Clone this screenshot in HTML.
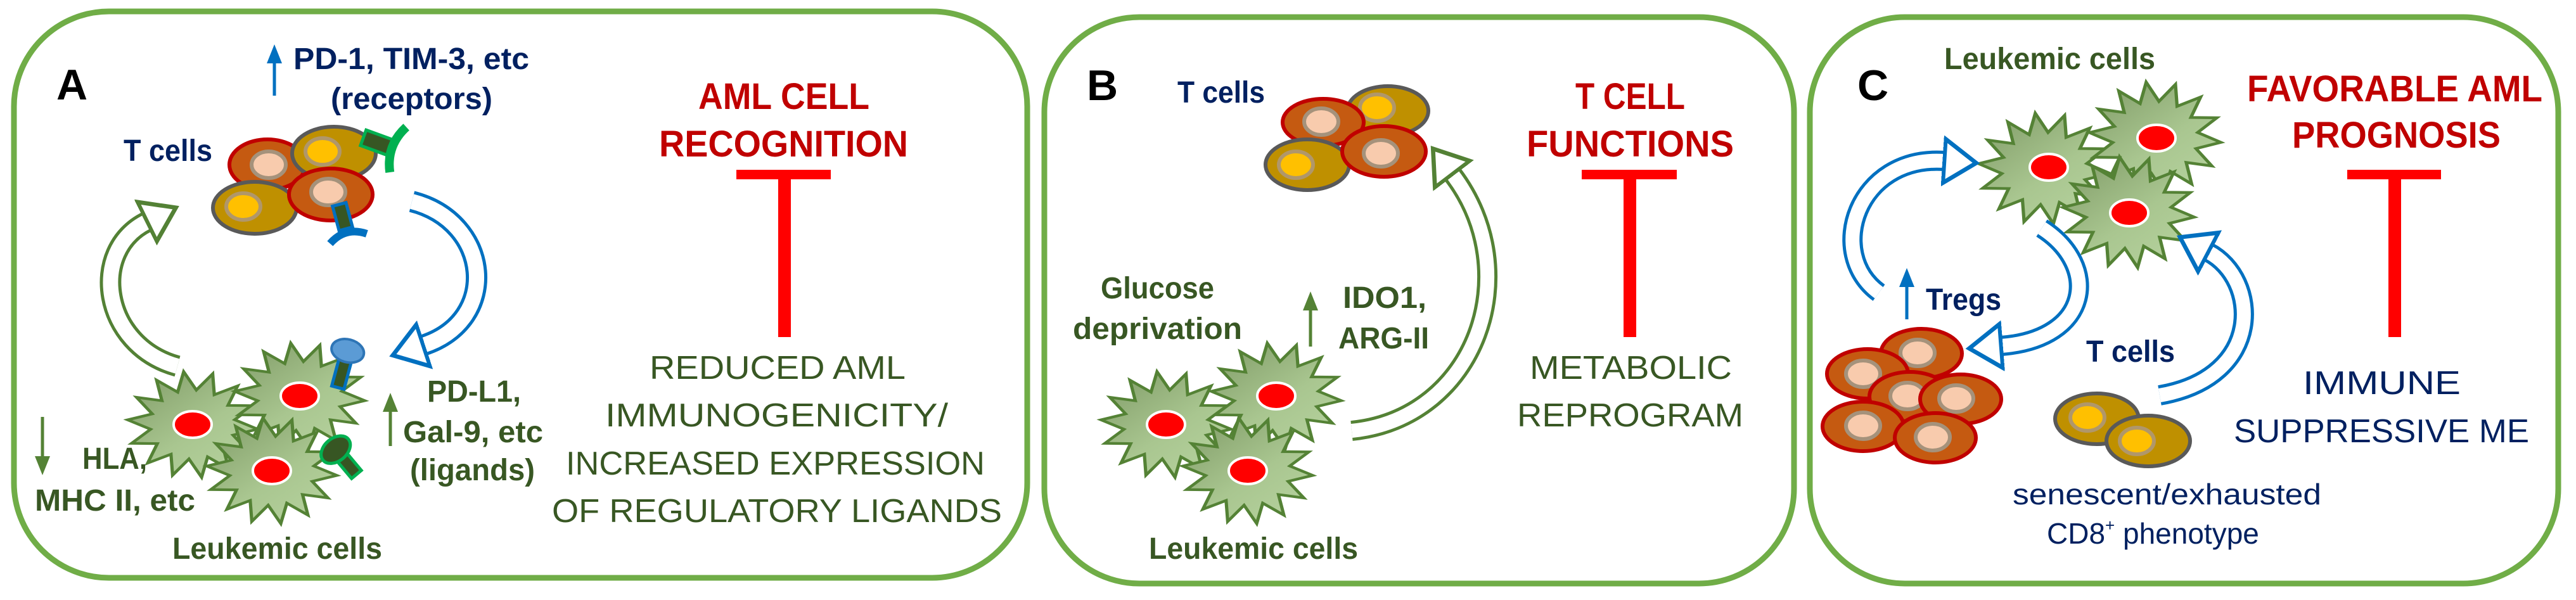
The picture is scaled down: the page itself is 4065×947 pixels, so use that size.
<!DOCTYPE html>
<html><head><meta charset="utf-8"><style>
html,body{margin:0;padding:0;background:#fff;}
svg{display:block;}
text{font-family:"Liberation Sans Narrow","Liberation Sans",sans-serif;}
.b{font-weight:bold;}
.nv{fill:#002060;}
.dg{fill:#385723;}
.rd{fill:#c00000;}
</style></head><body>
<svg width="4065" height="947" viewBox="0 0 4065 947" xmlns="http://www.w3.org/2000/svg">
<defs>
<linearGradient id="sg" x1="0" y1="0" x2="1" y2="1">
<stop offset="0" stop-color="#7f9a66"/><stop offset="0.55" stop-color="#a9c690"/><stop offset="1" stop-color="#b8d4a0"/>
</linearGradient>
<polygon id="star" points="1,0 .634,.145 .901,.434 .508,.405 .623,.782 .282,.586 .223,.975 0,.65 -.223,.975 -.282,.586 -.623,.782 -.508,.405 -.901,.434 -.634,.145 -1,0 -.634,-.145 -.901,-.434 -.508,-.405 -.623,-.782 -.282,-.586 -.223,-.975 0,-.65 .223,-.975 .282,-.586 .623,-.782 .508,-.405 .901,-.434 .634,-.145"/>
<marker id="hg" markerUnits="userSpaceOnUse" markerWidth="80" markerHeight="80" refX="2" refY="30" orient="auto" viewBox="0 0 60 60"><polygon points="2,4 40,30 2,56" fill="#fff" stroke="#538135" stroke-width="5"/></marker>
<marker id="hb" markerUnits="userSpaceOnUse" markerWidth="80" markerHeight="80" refX="2" refY="30" orient="auto" viewBox="0 0 60 60"><polygon points="2,4 40,30 2,56" fill="#fff" stroke="#0070c0" stroke-width="5"/></marker>
<marker id="ag" markerUnits="userSpaceOnUse" markerWidth="30" markerHeight="30" refX="5" refY="12" orient="auto" viewBox="0 0 30 24"><polygon points="0,0 30,12 0,24" fill="#548235"/></marker>
<marker id="ab" markerUnits="userSpaceOnUse" markerWidth="30" markerHeight="30" refX="5" refY="12" orient="auto" viewBox="0 0 30 24"><polygon points="0,0 30,12 0,24" fill="#0070c0"/></marker>
</defs>

<rect x="22" y="18" width="1599" height="894" rx="150" ry="150" fill="#fff" stroke="#70ad47" stroke-width="9"/>
<rect x="1648" y="27" width="1183" height="894" rx="150" ry="150" fill="#fff" stroke="#70ad47" stroke-width="9"/>
<rect x="2856" y="27" width="1181" height="894" rx="150" ry="150" fill="#fff" stroke="#70ad47" stroke-width="9"/>

<!-- ============ PANEL A ============ -->
<text x="89" y="157" class="b" font-size="68" fill="#000">A</text>
<line x1="433" y1="151" x2="433" y2="95" stroke="#0070c0" stroke-width="5" marker-end="url(#ab)"/>
<text x="463" y="109" class="b nv" font-size="48" textLength="372" lengthAdjust="spacingAndGlyphs">PD-1, TIM-3, etc</text>
<text x="522" y="172" class="b nv" font-size="48" textLength="255" lengthAdjust="spacingAndGlyphs">(receptors)</text>
<text x="195" y="254" class="b nv" font-size="48" textLength="140" lengthAdjust="spacingAndGlyphs">T cells</text>

<g stroke-width="6">
<ellipse cx="422" cy="260" rx="60" ry="40" fill="#c55a11" stroke="#c00000"/>
<ellipse cx="424" cy="260" rx="27" ry="21" fill="#f8cbad" stroke="#a5927b"/>
<ellipse cx="527" cy="242" rx="66" ry="42" fill="#bf9000" stroke="#595959"/>
<ellipse cx="509" cy="239" rx="27" ry="21" fill="#ffc000" stroke="#b0976a"/>
<ellipse cx="402" cy="328" rx="66" ry="41" fill="#bf9000" stroke="#595959"/>
<ellipse cx="384" cy="326" rx="27" ry="21" fill="#ffc000" stroke="#b0976a"/>
<ellipse cx="522" cy="307" rx="66" ry="41" fill="#c55a11" stroke="#c00000"/>
<ellipse cx="518" cy="303" rx="27" ry="21" fill="#f8cbad" stroke="#a5927b"/>
</g>
<g transform="translate(600,226) rotate(20)">
<rect x="-28" y="-12" width="52" height="26" fill="#375623" stroke="#00b050" stroke-width="5"/>
<path d="M30,-38 Q10,0 30,38" fill="none" stroke="#00b050" stroke-width="14"/>
</g>
<g transform="translate(540,340) rotate(-15)">
<rect x="-11" y="-18" width="22" height="40" fill="#375623" stroke="#0070c0" stroke-width="5"/>
<path d="M-30,38 Q0,18 30,38" fill="none" stroke="#0070c0" stroke-width="12"/>
</g>

<path d="M280,578 C160,545 140,395 232,350" fill="none" stroke="#538135" stroke-width="34"/>
<path d="M280,578 C160,545 140,395 232,350" fill="none" stroke="#fff" stroke-width="24"/>
<path d="M280,578 C160,545 140,395 232,350" fill="none" stroke="none" marker-end="url(#hg)"/>
<path d="M650,318 C775,350 790,505 668,545" fill="none" stroke="#0070c0" stroke-width="34"/>
<path d="M650,318 C775,350 790,505 668,545" fill="none" stroke="#fff" stroke-width="24"/>
<path d="M650,318 C775,350 790,505 668,545" fill="none" stroke="none" marker-end="url(#hb)"/>

<g stroke="#548235" stroke-width="0.05" fill="url(#sg)">
<use href="#star" transform="translate(304,670) scale(103,84) rotate(5)"/>
<use href="#star" transform="translate(473,625) scale(103,84) rotate(5)"/>
<use href="#star" transform="translate(429,743) scale(103,84) rotate(5)"/>
</g>
<g fill="#ff0000" stroke="#fff" stroke-width="4">
<ellipse cx="304" cy="670" rx="30" ry="21"/><ellipse cx="473" cy="625" rx="30" ry="21"/><ellipse cx="429" cy="743" rx="30" ry="21"/>
</g>
<g transform="translate(543,575) rotate(15)">
<rect x="-10" y="-10" width="20" height="48" fill="#375623" stroke="#0070c0" stroke-width="5"/>
<ellipse cx="0" cy="-22" rx="26" ry="18" fill="#5b9bd5" stroke="#2e75b6" stroke-width="4"/>
</g>
<g transform="translate(540,722) rotate(-40)">
<rect x="-10" y="-5" width="20" height="40" fill="#375623" stroke="#00b050" stroke-width="5"/>
<ellipse cx="0" cy="-16" rx="26" ry="18" fill="#375623" stroke="#00b050" stroke-width="5"/>
</g>

<line x1="67" y1="658" x2="67" y2="725" stroke="#548235" stroke-width="5" marker-end="url(#ag)"/>
<text x="130" y="740" class="b dg" font-size="48" textLength="102" lengthAdjust="spacingAndGlyphs">HLA,</text>
<text x="55" y="806" class="b dg" font-size="48" textLength="253" lengthAdjust="spacingAndGlyphs">MHC II, etc</text>
<line x1="616" y1="704" x2="616" y2="645" stroke="#548235" stroke-width="5" marker-end="url(#ag)"/>
<text x="674" y="634" class="b dg" font-size="48" textLength="148" lengthAdjust="spacingAndGlyphs">PD-L1,</text>
<text x="636" y="698" class="b dg" font-size="48" textLength="221" lengthAdjust="spacingAndGlyphs">Gal-9, etc</text>
<text x="647" y="758" class="b dg" font-size="48" textLength="197" lengthAdjust="spacingAndGlyphs">(ligands)</text>
<text x="272" y="882" class="b dg" font-size="48" textLength="331" lengthAdjust="spacingAndGlyphs">Leukemic cells</text>

<text x="1102" y="172" class="b rd" font-size="58" textLength="270" lengthAdjust="spacingAndGlyphs">AML CELL</text>
<text x="1040" y="247" class="b rd" font-size="58" textLength="393" lengthAdjust="spacingAndGlyphs">RECOGNITION</text>
<rect x="1162" y="268" width="149" height="15" fill="#ff0000"/>
<rect x="1228" y="268" width="20" height="264" fill="#ff0000"/>
<g class="dg" font-size="52">
<text x="1025" y="598" textLength="404" lengthAdjust="spacingAndGlyphs">REDUCED AML</text>
<text x="955" y="673" textLength="541" lengthAdjust="spacingAndGlyphs">IMMUNOGENICITY/</text>
<text x="893" y="749" textLength="661" lengthAdjust="spacingAndGlyphs">INCREASED EXPRESSION</text>
<text x="871" y="824" textLength="710" lengthAdjust="spacingAndGlyphs">OF REGULATORY LIGANDS</text>
</g>

<!-- ============ PANEL B ============ -->
<text x="1715" y="158" class="b" font-size="68" fill="#000">B</text>
<text x="1858" y="162" class="b nv" font-size="48" textLength="138" lengthAdjust="spacingAndGlyphs">T cells</text>
<g stroke-width="6">
<ellipse cx="2190" cy="175" rx="64" ry="39" fill="#bf9000" stroke="#595959"/>
<ellipse cx="2173" cy="170" rx="27" ry="21" fill="#ffc000" stroke="#b0976a"/>
<ellipse cx="2088" cy="193" rx="64" ry="37" fill="#c55a11" stroke="#c00000"/>
<ellipse cx="2085" cy="192" rx="27" ry="21" fill="#f8cbad" stroke="#a5927b"/>
<ellipse cx="2063" cy="260" rx="66" ry="40" fill="#bf9000" stroke="#595959"/>
<ellipse cx="2045" cy="260" rx="27" ry="21" fill="#ffc000" stroke="#b0976a"/>
<ellipse cx="2184" cy="239" rx="66" ry="40" fill="#c55a11" stroke="#c00000"/>
<ellipse cx="2179" cy="242" rx="27" ry="21" fill="#f8cbad" stroke="#a5927b"/>
</g>
<path d="M2133,680 C2330,660 2410,430 2292,275" fill="none" stroke="#548235" stroke-width="32"/>
<path d="M2133,680 C2330,660 2410,430 2292,275" fill="none" stroke="#fff" stroke-width="22"/>
<path d="M2133,680 C2330,660 2410,430 2292,275" fill="none" stroke="none" marker-end="url(#hg)"/>
<g stroke="#548235" stroke-width="0.05" fill="url(#sg)">
<use href="#star" transform="translate(1840,670) scale(103,84) rotate(5)"/>
<use href="#star" transform="translate(2014,625) scale(103,84) rotate(5)"/>
<use href="#star" transform="translate(1969,743) scale(103,84) rotate(5)"/>
</g>
<g fill="#ff0000" stroke="#fff" stroke-width="4">
<ellipse cx="1840" cy="670" rx="30" ry="21"/><ellipse cx="2014" cy="625" rx="30" ry="21"/><ellipse cx="1969" cy="743" rx="30" ry="21"/>
</g>
<text x="1737" y="471" class="b dg" font-size="48" textLength="179" lengthAdjust="spacingAndGlyphs">Glucose</text>
<text x="1693" y="535" class="b dg" font-size="48" textLength="267" lengthAdjust="spacingAndGlyphs">deprivation</text>
<line x1="2068" y1="547" x2="2068" y2="485" stroke="#548235" stroke-width="5" marker-end="url(#ag)"/>
<text x="2119" y="486" class="b dg" font-size="48" textLength="132" lengthAdjust="spacingAndGlyphs">IDO1,</text>
<text x="2112" y="550" class="b dg" font-size="48" textLength="143" lengthAdjust="spacingAndGlyphs">ARG-II</text>
<text x="1813" y="882" class="b dg" font-size="48" textLength="330" lengthAdjust="spacingAndGlyphs">Leukemic cells</text>
<text x="2486" y="172" class="b rd" font-size="58" textLength="173" lengthAdjust="spacingAndGlyphs">T CELL</text>
<text x="2409" y="247" class="b rd" font-size="58" textLength="327" lengthAdjust="spacingAndGlyphs">FUNCTIONS</text>
<rect x="2496" y="268" width="150" height="15" fill="#ff0000"/>
<rect x="2562" y="268" width="20" height="264" fill="#ff0000"/>
<text x="2414" y="598" class="dg" font-size="52" textLength="319" lengthAdjust="spacingAndGlyphs">METABOLIC</text>
<text x="2394" y="673" class="dg" font-size="52" textLength="357" lengthAdjust="spacingAndGlyphs">REPROGRAM</text>

<!-- ============ PANEL C ============ -->
<text x="2931" y="158" class="b" font-size="68" fill="#000">C</text>
<text x="3068" y="109" class="b dg" font-size="48" textLength="333" lengthAdjust="spacingAndGlyphs">Leukemic cells</text>
<g stroke="#548235" stroke-width="0.05" fill="url(#sg)">
<use href="#star" transform="translate(3226,266) scale(104,88) rotate(5)"/>
<use href="#star" transform="translate(3401,217) scale(104,88) rotate(5)"/>
<use href="#star" transform="translate(3359,335) scale(104,88) rotate(5)"/>
</g>
<g fill="#ff0000" stroke="#fff" stroke-width="4">
<ellipse cx="3233" cy="264" rx="30" ry="21"/><ellipse cx="3403" cy="218" rx="30" ry="21"/><ellipse cx="3360" cy="336" rx="30" ry="21"/>
</g>
<path d="M2965,462 C2880,400 2930,245 3068,254" fill="none" stroke="#0070c0" stroke-width="32"/>
<path d="M2965,462 C2880,400 2930,245 3068,254" fill="none" stroke="#fff" stroke-width="22"/>
<path d="M2965,462 C2880,400 2930,245 3068,254" fill="none" stroke="none" marker-end="url(#hb)"/>
<path d="M3222,360 C3315,420 3300,535 3158,546" fill="none" stroke="#0070c0" stroke-width="32"/>
<path d="M3222,360 C3315,420 3300,535 3158,546" fill="none" stroke="#fff" stroke-width="22"/>
<path d="M3222,360 C3315,420 3300,535 3158,546" fill="none" stroke="none" marker-end="url(#hb)"/>
<path d="M3408,624 C3575,595 3565,440 3485,398" fill="none" stroke="#0070c0" stroke-width="32"/>
<path d="M3408,624 C3575,595 3565,440 3485,398" fill="none" stroke="#fff" stroke-width="22"/>
<path d="M3408,624 C3575,595 3565,440 3485,398" fill="none" stroke="none" marker-end="url(#hb)"/>

<line x1="3009" y1="504" x2="3009" y2="448" stroke="#0070c0" stroke-width="5" marker-end="url(#ab)"/>
<text x="3039" y="489" class="b nv" font-size="48" textLength="119" lengthAdjust="spacingAndGlyphs">Tregs</text>
<g stroke-width="6" fill="#c55a11" stroke="#c00000">
<ellipse cx="3032" cy="558" rx="64" ry="39"/><ellipse cx="3026" cy="557" rx="27" ry="21" fill="#f8cbad" stroke="#a5927b"/>
<ellipse cx="2947" cy="590" rx="64" ry="39"/><ellipse cx="2940" cy="590" rx="27" ry="21" fill="#f8cbad" stroke="#a5927b"/>
<ellipse cx="3014" cy="626" rx="64" ry="39"/><ellipse cx="3010" cy="625" rx="27" ry="21" fill="#f8cbad" stroke="#a5927b"/>
<ellipse cx="3094" cy="630" rx="64" ry="39"/><ellipse cx="3087" cy="629" rx="27" ry="21" fill="#f8cbad" stroke="#a5927b"/>
<ellipse cx="2940" cy="673" rx="64" ry="39"/><ellipse cx="2940" cy="672" rx="27" ry="21" fill="#f8cbad" stroke="#a5927b"/>
<ellipse cx="3054" cy="691" rx="64" ry="39"/><ellipse cx="3050" cy="690" rx="27" ry="21" fill="#f8cbad" stroke="#a5927b"/>
</g>
<text x="3292" y="571" class="b nv" font-size="48" textLength="140" lengthAdjust="spacingAndGlyphs">T cells</text>
<g stroke-width="6">
<ellipse cx="3309" cy="661" rx="66" ry="40" fill="#bf9000" stroke="#595959"/>
<ellipse cx="3294" cy="659" rx="27" ry="21" fill="#ffc000" stroke="#b0976a"/>
<ellipse cx="3390" cy="696" rx="66" ry="40" fill="#bf9000" stroke="#595959"/>
<ellipse cx="3372" cy="696" rx="27" ry="21" fill="#ffc000" stroke="#b0976a"/>
</g>
<text x="3176" y="796" class="nv" font-size="46" textLength="487" lengthAdjust="spacingAndGlyphs">senescent/exhausted</text>
<text x="3230" y="858" class="nv" font-size="46">CD8<tspan font-size="26" dy="-20">+</tspan><tspan dy="20"> phenotype</tspan></text>
<text x="3546" y="160" class="b rd" font-size="58" textLength="466" lengthAdjust="spacingAndGlyphs">FAVORABLE AML</text>
<text x="3617" y="233" class="b rd" font-size="58" textLength="329" lengthAdjust="spacingAndGlyphs">PROGNOSIS</text>
<rect x="3704" y="268" width="148" height="15" fill="#ff0000"/>
<rect x="3769" y="268" width="20" height="264" fill="#ff0000"/>
<text x="3634" y="622" class="nv" font-size="52" textLength="249" lengthAdjust="spacingAndGlyphs">IMMUNE</text>
<text x="3525" y="698" class="nv" font-size="52" textLength="466" lengthAdjust="spacingAndGlyphs">SUPPRESSIVE ME</text>
</svg>
</body></html>
